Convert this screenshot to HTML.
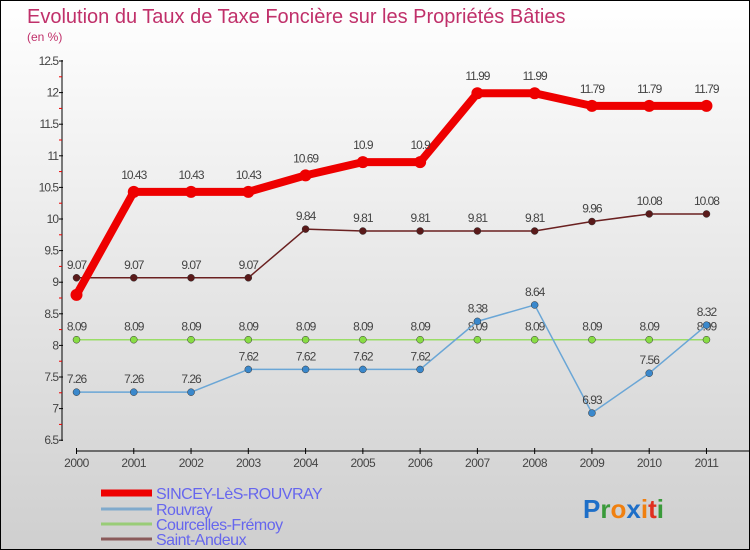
<!DOCTYPE html>
<html><head><meta charset="utf-8"><style>
html,body{margin:0;padding:0}
body{width:750px;height:550px;overflow:hidden;font-family:"Liberation Sans",sans-serif}
#root{position:relative;width:748px;height:548px;border:1px solid #000;background:linear-gradient(#fff,#cfcfcf)}
</style></head><body>
<div id="root">
<svg id="chart" width="748" height="548" style="position:absolute;left:0;top:0">
<text x="26" y="22" font-size="20" fill="#c0306a">Evolution du Taux de Taxe Foncière sur les Propriétés Bâties</text>
<text x="26" y="40" font-size="12" fill="#c0306a">(en %)</text>
<g id="axes"></g><g id="series"></g><g id="legend"></g>
<text x="582" y="517" font-size="26" font-weight="bold" fill="#1e6fc8">P<tspan fill="#3a9a3a">r</tspan><tspan fill="#f08010">o</tspan><tspan fill="#1e6fc8">x</tspan><tspan fill="#f08010">i</tspan><tspan fill="#e03020">t</tspan><tspan fill="#3a9a3a">i</tspan></text>
</svg>
</div>
<script>
const years=["2000","2001","2002","2003","2004","2005","2006","2007","2008","2009","2010","2011"];
const yTicks=[6.5,7,7.5,8,8.5,9,9.5,10,10.5,11,11.5,12,12.5];
const sincey=[8.8,10.43,10.43,10.43,10.69,10.9,10.9,11.99,11.99,11.79,11.79,11.79];
const rouvray=[7.26,7.26,7.26,7.62,7.62,7.62,7.62,8.38,8.64,6.93,7.56,8.32];
const courcelles=[8.09,8.09,8.09,8.09,8.09,8.09,8.09,8.09,8.09,8.09,8.09,8.09];
const andeux=[9.07,9.07,9.07,9.07,9.84,9.81,9.81,9.81,9.81,9.96,10.08,10.08];
const names=["SINCEY-LèS-ROUVRAY","Rouvray","Courcelles-Frémoy","Saint-Andeux"];
const NS="http://www.w3.org/2000/svg";
const x=i=>75.5+i*57.27;
const y=v=>60+(12.5-v)*63.2;
function mk(t,a,p){const e=document.createElementNS(NS,t);for(const k in a)e.setAttribute(k,a[k]);p.appendChild(e);return e;}
const axes=document.getElementById('axes');
mk('line',{x1:61,y1:59,x2:61,y2:440,stroke:'#000'},axes);
yTicks.forEach((v,i)=>{
 mk('line',{x1:58,y1:y(v),x2:62,y2:y(v),stroke:'#000'},axes);
 if(i<yTicks.length-1)mk('line',{x1:58,y1:y(v+0.25),x2:61,y2:y(v+0.25),stroke:'#e00'},axes);
 const t=mk('text',{x:57,y:y(v)+4,'font-size':12,'text-anchor':'end',fill:'#444','letter-spacing':'-1'},axes);
 
 
 t.textContent=String(v);
});
mk('line',{x1:75,y1:450,x2:748,y2:450,stroke:'#000'},axes);
years.forEach((yr,i)=>{
 mk('line',{x1:x(i),y1:447,x2:x(i),y2:453,stroke:'#000'},axes);
 const t=mk('text',{x:x(i),y:466,'font-size':12,'text-anchor':'middle',fill:'#444','letter-spacing':'-0.5'},axes);
 
 
 t.textContent=yr;
});
const ser=document.getElementById('series');
function draw(data,color,w,r,dot,name,showFirst,lblOff){
 const g=mk('g',{},ser);
 
 
 mk('polyline',{points:data.map((v,i)=>x(i)+','+y(v)).join(' '),fill:'none',stroke:color,'stroke-width':w,'stroke-linejoin':'round'},g);
 data.forEach((v,i)=>{
  const c=mk('circle',{cx:x(i),cy:y(v),r:r,fill:dot,stroke:'#333','stroke-width':w>3?0:0.5},g);
  
  
  if(i===0&&!showFirst)return;
  const t=mk('text',{x:x(i),y:y(v)-lblOff,'font-size':12,'text-anchor':'middle',fill:'#444','letter-spacing':'-1'},g);
  
  
  t.textContent=String(v);
 });
}
draw(courcelles,'#99dd66',1.5,3.5,'#88dd44','courcelles-series',true,9);
draw(rouvray,'#6aa6d6',1.5,3.5,'#3a88cc','rouvray-series',true,9);
draw(andeux,'#6a2020',1.5,3.5,'#5a1a1a','saint-andeux-series',true,9);
draw(sincey,'#ee0000',8,6,'#ee0000','sincey-series',false,13);
const lg=document.getElementById('legend');
const lc=['#ee0000','#80aacc','#99cc77','#8a5a5a'],lw=[7,3,3,3],ly=[492,508,523,538];
names.forEach((n,i)=>{
 const l=mk('line',{x1:100,y1:ly[i],x2:151,y2:ly[i],stroke:lc[i],'stroke-width':lw[i]},lg);
 
 
 const t=mk('text',{x:155,y:ly[i]+6,'font-size':16,fill:'#6666ee','letter-spacing':'-0.5'},lg);
 
 
 t.textContent=n;
});
</script>
</body></html>
